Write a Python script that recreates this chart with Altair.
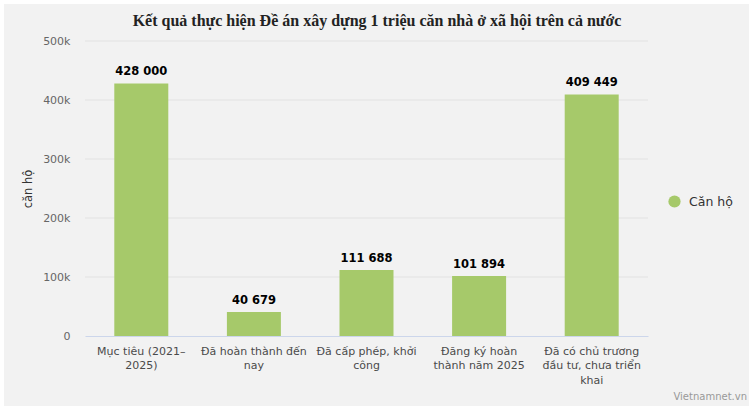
import altair as alt
import pandas as pd

categories = [
    "Mục tiêu (2021–\n2025)",
    "Đã hoàn thành đến\nnay",
    "Đã cấp phép, khởi\ncông",
    "Đăng ký hoàn\nthành năm 2025",
    "Đã có chủ trương\nđầu tư, chưa triển\nkhai",
]
values = [428000, 40679, 111688, 101894, 409449]
series_name = "Căn hộ"
y_ticks = [0, 100000, 200000, 300000, 400000, 500000]

title_text = "Kết quả thực hiện Đề án xây dựng 1 triệu căn nhà ở xã hội trên cả nước"
credit_text = "Vietnamnet.vn"

df = pd.DataFrame({"cat": categories, "value": values, "series": series_name})
grid_df = pd.DataFrame({"v": y_ticks[1:]})

W, H = 563, 295
PL, PT = 85, 41
BAR = "#a6c96a"
SANS = "DejaVu Sans"

base = alt.Chart(df)

bg = alt.Chart(pd.DataFrame({"a": [0]})).mark_rect(color="#f2f2f2").encode(
    x=alt.value(4 - PL), x2=alt.value(749 - PL),
    y=alt.value(4 - PT), y2=alt.value(406 - PT),
)

grid = alt.Chart(grid_df).mark_rule(color="#e2e2e2", strokeWidth=1).encode(
    y=alt.Y("v:Q"), x=alt.value(0), x2=alt.value(W),
)

x_enc = alt.X(
    "cat:N", sort=categories, title=None,
    scale=alt.Scale(paddingInner=0.52, paddingOuter=0.26),
    axis=alt.Axis(
        labelAngle=0, labelExpr="split(datum.label, '\\n')",
        labelFont=SANS, labelFontSize=11, labelColor="#4a4a4a",
        labelPadding=9, labelLineHeight=14.5, ticks=False,
        domainColor="#ccd6eb", grid=False, labelLimit=200, zindex=1,
    ),
)
y_enc = alt.Y(
    "value:Q", title="căn hộ",
    scale=alt.Scale(domain=[0, 500000], nice=False),
    axis=alt.Axis(
        values=y_ticks, format="~s",
        labelExpr="datum.value == 0 ? '0' : datum.label",
        labelFont=SANS, labelFontSize=11,
        labelColor="#666", labelPadding=15, ticks=False, domain=False,
        grid=False, titleFont=SANS, titleFontSize=11.5,
        titleColor="#333", titleFontWeight="normal", titlePadding=9,
        zindex=1,
    ),
)

bars = base.mark_bar(size=54).encode(
    x=x_enc, y=y_enc,
    color=alt.Color(
        "series:N", scale=alt.Scale(range=[BAR]),
        legend=alt.Legend(
            title=None, orient="none", legendX=583, legendY=154,
            symbolType="circle", symbolSize=150, symbolStrokeWidth=0,
            labelFont=SANS, labelFontSize=12.5, labelColor="#333",
            labelFontWeight="normal", labelOffset=8, zindex=1,
        ),
    ),
)

labels = base.transform_calculate(
    lbl="replace(format(datum.value, ','), regexp(',', 'g'), ' ')"
).mark_text(
    dy=-6, baseline="bottom", font=SANS, fontSize=11.5,
    fontWeight="bold", color="#000",
).encode(x=alt.X("cat:N", sort=categories), y="value:Q", text="lbl:N")

credit = alt.Chart(pd.DataFrame({"t": [credit_text]})).mark_text(
    align="right", baseline="middle", font=SANS, fontSize=10, color="#999",
).encode(x=alt.value(747 - PL), y=alt.value(397 - PT), text="t:N")

title = alt.Chart(pd.DataFrame({"t": [title_text]})).mark_text(
    align="center", baseline="middle", font="Liberation Serif", fontSize=16,
    fontWeight="bold", color="#222",
).encode(x=alt.value(377 - PL), y=alt.value(21 - PT), text="t:N")

chart = alt.layer(bg, grid, bars, labels, credit, title).properties(
    width=W, height=H,
    padding={"left": PL, "top": PT, "right": 754 - PL - W, "bottom": 409 - PT - H},
    autosize=alt.AutoSizeParams(type="none"),
    background="white",
).configure_view(stroke=None).configure_axis(labelFontWeight="normal")

chart.save("out.html", embed_options={"renderer": "svg", "actions": False})
